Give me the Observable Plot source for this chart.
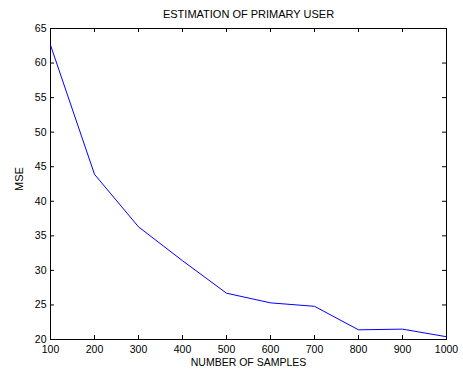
<!DOCTYPE html>
<html>
<head>
<meta charset="utf-8">
<script src="https://cdn.jsdelivr.net/npm/d3@7"></script>
<script src="https://cdn.jsdelivr.net/npm/@observablehq/plot@0.6"></script>
<style>
  html, body { margin: 0; padding: 0; background: #fff; }
</style>
</head>
<body>
<div id="chart"></div>
<script>
const title = "ESTIMATION OF PRIMARY USER";
const xLabel = "NUMBER OF SAMPLES";
const yLabel = "MSE";
const samples = [100, 200, 300, 400, 500, 600, 700, 800, 900, 1000];
const mse = [62.6, 43.9, 36.3, 31.4, 26.7, 25.3, 24.8, 21.4, 21.5, 20.4];
const xTicks = [100, 200, 300, 400, 500, 600, 700, 800, 900, 1000];
const yTicks = [20, 25, 30, 35, 40, 45, 50, 55, 60, 65];
const xDomain = [100, 1000];
const yDomain = [20, 65];

const data = samples.map((s, i) => ({s, m: mse[i]}));
const font = "Liberation Sans, Arial, sans-serif";

const chart = Plot.plot({
  width: 463,
  height: 374,
  marginLeft: 50,
  marginRight: 17,
  marginTop: 28,
  marginBottom: 35,
  style: {fontFamily: font, fontSize: "11px", background: "#fff", color: "#000"},
  x: {domain: xDomain},
  y: {domain: yDomain},
  marks: [
    Plot.frame({stroke: "#000", strokeWidth: 1}),
    // inward tick marks on all four sides
    Plot.ruleX(xTicks, {x: d => d, y1: yDomain[0], y2: yDomain[0], insetTop: -4, stroke: "#000"}),
    Plot.ruleX(xTicks, {x: d => d, y1: yDomain[1], y2: yDomain[1], insetBottom: -4, stroke: "#000"}),
    Plot.ruleY(yTicks, {y: d => d, x1: xDomain[0], x2: xDomain[0], insetRight: -4, stroke: "#000"}),
    Plot.ruleY(yTicks, {y: d => d, x1: xDomain[1], x2: xDomain[1], insetLeft: -4, stroke: "#000"}),
    // tick labels
    Plot.axisX(xTicks, {anchor: "bottom", tickSize: 0, tickPadding: 6, tickFormat: d => String(d), label: null, fontSize: 10.5}),
    Plot.axisY(yTicks, {anchor: "left", tickSize: 0, tickPadding: 4, tickFormat: d => String(d), label: null, fontSize: 10.5}),
    Plot.line(data, {x: "s", y: "m", stroke: "#0000ff", strokeWidth: 1}),
    // title and axis labels
    Plot.text([title], {frameAnchor: "top", dy: -14, lineAnchor: "middle", fontSize: 11, text: d => d}),
    Plot.text([xLabel], {frameAnchor: "bottom", dy: 23, lineAnchor: "middle", fontSize: 10.5, text: d => d}),
    Plot.text([yLabel], {frameAnchor: "left", dx: -31, dy: -5, rotate: -90, textAnchor: "middle", lineAnchor: "middle", fontSize: 11, text: d => d})
  ]
});
document.getElementById("chart").appendChild(chart);
</script>
</body>
</html>
